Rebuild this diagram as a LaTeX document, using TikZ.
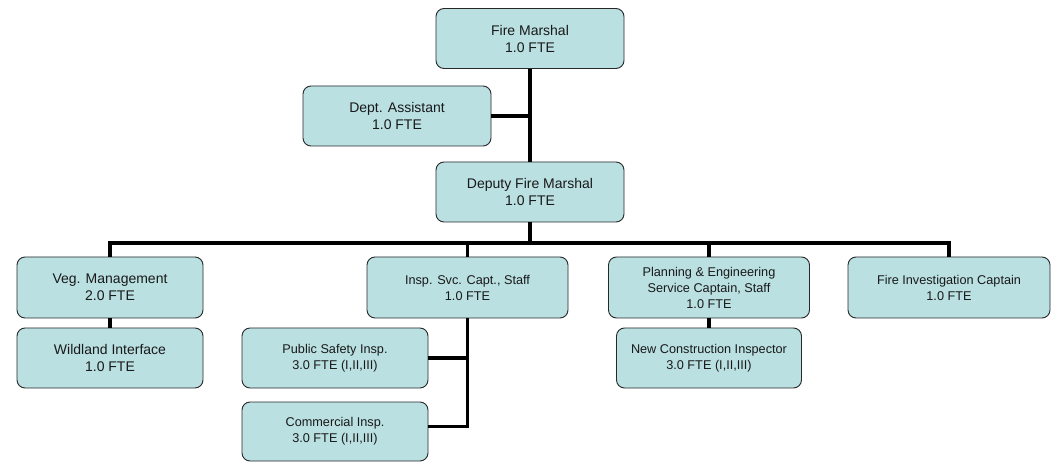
\documentclass[tikz,border=0pt]{standalone}
\usepackage{fontspec}
\setmainfont{Liberation Sans}
\definecolor{boxfill}{RGB}{186,224,226}
\definecolor{boxline}{RGB}{40,40,40}
\begin{document}
\begin{tikzpicture}[x=1pt,y=-1pt,
  orgbox/.style={draw=boxline, fill=boxfill, line width=0.9pt, rounded corners=8pt,
    align=center, inner sep=0pt, minimum height=60pt, text=black!90},
  big/.style={orgbox, font=\fontsize{14}{17}\selectfont},
  small/.style={orgbox, font=\fontsize{12.7}{16}\selectfont},
  conn/.style={line width=3.2pt, draw=black}]
\useasboundingbox (0,0) rectangle (1055,462);

% connectors first (behind boxes)
\coordinate (bus) at (530,243);

\node[big, minimum width=188pt] (fm) at (530,38.5) {Fire Marshal\\1.0 FTE};
\node[big, minimum width=188pt] (da) at (397,116) {Dept. Assistant\\1.0 FTE};
\node[big, minimum width=188pt] (dfm) at (530,192) {Deputy Fire Marshal\\1.0 FTE};

\node[big, minimum width=186pt, minimum height=61pt] (veg) at (110,287.5) {Veg. Management\\2.0 FTE};
\node[big, minimum width=186pt] (wild) at (110,358) {Wildland Interface\\1.0 FTE};

\node[small, minimum width=201pt, minimum height=61pt] (insp) at (467.5,287.5) {Insp. Svc. Capt., Staff\\1.0 FTE};
\node[small, minimum width=186pt] (ps) at (335,358) {Public Safety Insp.\\3.0 FTE (I,II,III)};
\node[small, minimum width=186pt, minimum height=59pt] (com) at (335,431.5) {Commercial Insp.\\3.0 FTE (I,II,III)};

\node[small, minimum width=201pt, minimum height=61pt] (plan) at (709,287.5) {Planning \& Engineering\\Service Captain, Staff\\1.0 FTE};
\node[small, minimum width=185pt] (nci) at (709,358) {New Construction Inspector\\3.0 FTE (I,II,III)};

\node[small, minimum width=202pt, minimum height=61pt] (fic) at (949,287.5) {Fire Investigation Captain\\1.0 FTE};

\begin{scope}[on background layer/.try]
\end{scope}

\draw[conn] (fm.south) -- (dfm.north);
\draw[conn] (da.east) -- (da.east -| fm.south);
\draw[conn] (dfm.south) -- (bus);
\draw[conn] (bus) -| (veg.north);
\draw[conn] (bus) -| (insp.north);
\draw[conn] (bus) -| (plan.north);
\draw[conn] (bus) -| (fic.north);
\draw[conn] (veg.south) -- (wild.north);
\draw[conn] (insp.south) |- ([yshift=5pt]com.east);
\draw[conn] (ps.east) -- (ps.east -| insp.south);
\draw[conn] (plan.south) -- (nci.north);
\end{tikzpicture}
\end{document}
